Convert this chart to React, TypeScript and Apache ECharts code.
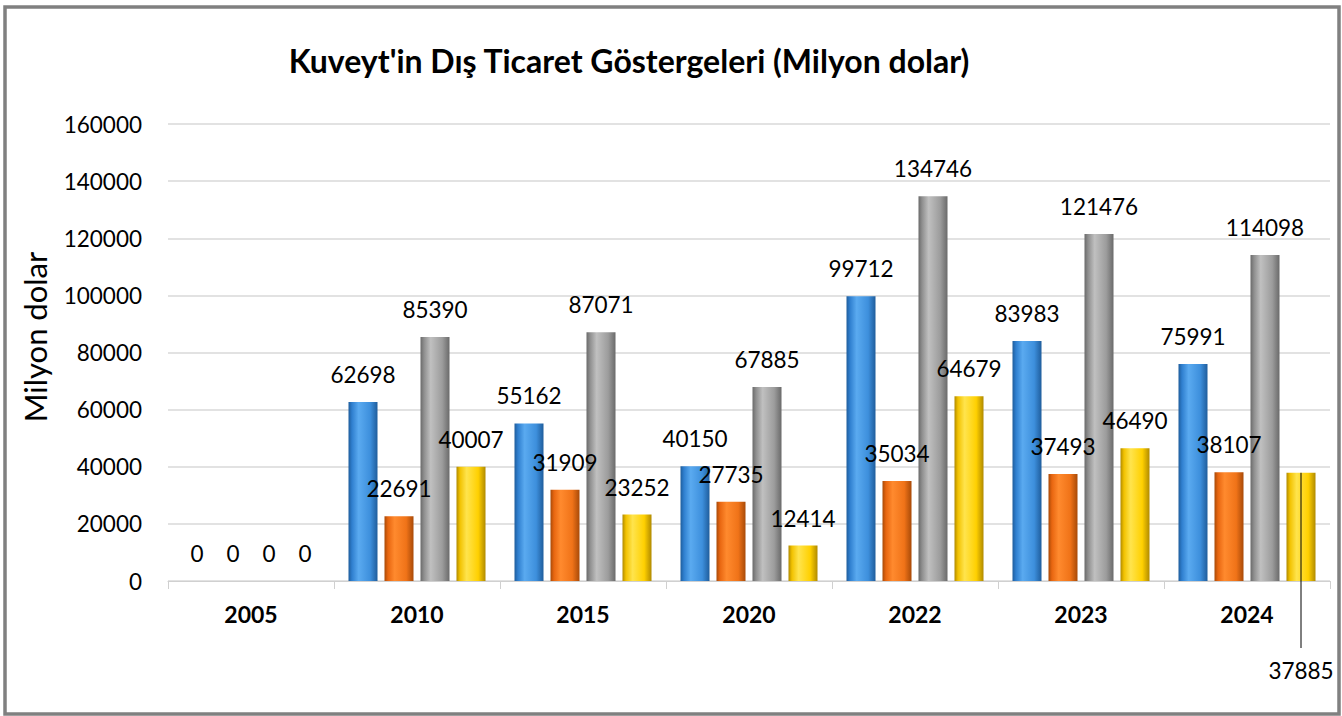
import React, { useEffect, useRef } from "react";
import * as echarts from "echarts";

const years = ["2005", "2010", "2015", "2020", "2022", "2023", "2024"];
const ihracat = [0, 62698, 55162, 40150, 99712, 83983, 75991];
const ithalat = [0, 22691, 31909, 27735, 35034, 37493, 38107];
const hacim = [0, 85390, 87071, 67885, 134746, 121476, 114098];
const denge = [0, 40007, 23252, 12414, 64679, 46490, 37885];
const yTicks = { min: 0, max: 160000, interval: 20000 };
const calloutIndex = 6; // 2024 balance label moved below the axis

const FONT = "Lato";
const BAR_W = 29;
const BAR_GAP = 7;

function grad(dark: string, light: string, mid: string, edge: string) {
  return new echarts.graphic.LinearGradient(0, 0, 1, 0, [
    { offset: 0, color: edge },
    { offset: 0.12, color: dark },
    { offset: 0.35, color: light },
    { offset: 0.75, color: mid },
    { offset: 1, color: edge },
  ]);
}

export default function App() {
  const ref = useRef<HTMLDivElement>(null);
  useEffect(() => {
    if (!ref.current) return;
    const chart = echarts.init(ref.current, null, { renderer: "svg" });
    const label = {
      show: true,
      position: "top" as const,
      distance: 16,
      color: "#000",
      fontFamily: FONT,
      fontSize: 22.5,
    };
    const mk = (name: string, data: number[], color: any, hideIdx = -1) => ({
      name,
      type: "bar",
      barWidth: BAR_W,
      barGap: `${(BAR_GAP / BAR_W) * 100}%`,
      data: data.map((v, i) =>
        i === hideIdx ? { value: v, label: { show: false } } : v
      ),
      itemStyle: { color },
      label,
    });
    const offset = 1.5 * (BAR_W + BAR_GAP);
    chart.setOption({
      animation: false,
      title: {
        text: "Kuveyt'in Dış Ticaret Göstergeleri (Milyon dolar)",
        left: 624,
        top: 39,
        textAlign: "center",
        textStyle: { fontFamily: FONT, fontSize: 32, fontWeight: "bold", color: "#000" },
      },
      graphic: [
        {
          type: "rect",
          shape: { x: 5, y: 7, width: 1334, height: 707 },
          style: { fill: "none", stroke: "#808080", lineWidth: 3.5 },
          silent: true,
        },
        {
          type: "text",
          x: 35,
          y: 337,
          rotation: Math.PI / 2,
          silent: true,
          style: {
            text: "Milyon dolar",
            fontFamily: FONT,
            fontSize: 31,
            fill: "#000",
            align: "center",
            verticalAlign: "middle",
          },
        },
      ],
      grid: { left: 168, right: 12, top: 124, bottom: 135, containLabel: false },
      xAxis: {
        type: "category",
        data: years,
        axisLine: { lineStyle: { color: "#d0d0d0", width: 1 } },
        axisTick: { show: true, length: 8, lineStyle: { color: "#d0d0d0" } },
        axisLabel: {
          margin: 21,
          color: "#000",
          fontFamily: FONT,
          fontSize: 23,
          fontWeight: "bold",
        },
      },
      yAxis: {
        type: "value",
        min: yTicks.min,
        max: yTicks.max,
        interval: yTicks.interval,
        axisLine: { show: false },
        axisTick: { show: false },
        splitLine: { lineStyle: { color: "#d9d9d9", width: 1.5 } },
        axisLabel: {
          margin: 26,
          color: "#000",
          fontFamily: FONT,
          fontSize: 22.5,
          formatter: (v: number) => String(v),
        },
      },
      series: [
        mk("İhracat", ihracat, grad("#2f7fcf", "#5aaaf0", "#3d8fdc", "#1f5d9c")),
        mk("İthalat", ithalat, grad("#e86610", "#ff8a2e", "#f07318", "#a84a08")),
        mk("Dış Ticaret Hacmi", hacim, grad("#8e8e8e", "#c0c0c0", "#9c9c9c", "#6a6a6a")),
        mk("Dış Ticaret Dengesi", denge, grad("#f2c200", "#ffe44d", "#ffd000", "#b08a00"), calloutIndex),
        {
          name: "callout",
          type: "custom",
          silent: true,
          data: [[calloutIndex, denge[calloutIndex]]],
          encode: { x: 0, y: 1 },
          z: 5,
          renderItem: (params: any, api: any) => {
            const top = api.coord([api.value(0), api.value(1)]);
            const base = api.coord([api.value(0), 0]);
            const x = top[0] + offset;
            return {
              type: "group",
              children: [
                {
                  type: "line",
                  shape: { x1: x, y1: top[1], x2: x, y2: base[1] + 67 },
                  style: { stroke: "#000", lineWidth: 1 },
                },
                {
                  type: "text",
                  x,
                  y: base[1] + 89,
                  style: {
                    text: String(api.value(1)),
                    fontFamily: FONT,
                    fontSize: 22.5,
                    fill: "#000",
                    align: "center",
                    verticalAlign: "middle",
                  },
                },
              ],
            };
          },
        },
      ],
    });
    return () => chart.dispose();
  }, []);
  return (
    <div
      ref={ref}
      style={{ position: "absolute", left: 0, top: 0, width: 1342, height: 716, background: "#fff" }}
    />
  );
}
